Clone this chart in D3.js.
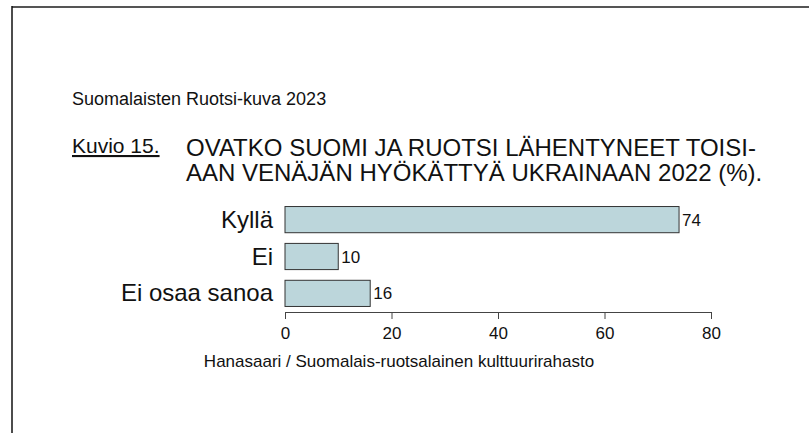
<!DOCTYPE html>
<html>
<head>
<meta charset="utf-8">
<script src="https://cdn.jsdelivr.net/npm/d3@7"></script>
<style>
  body { margin: 0; background: #fff; }
  text { font-family: "Liberation Sans", Arial, sans-serif; fill: #111; }
</style>
</head>
<body>
<script>
var width = 809,
    height = 433;

// data
var categories = ['Kyllä', 'Ei', 'Ei osaa sanoa'];
var values = [74, 10, 16];
var ticks = [0, 20, 40, 60, 80];

var svg = d3.select('body')
  .append('svg')
    .attr('width', width)
    .attr('height', height)

// frame (top and left only)
svg.append('line')
    .attr('x1', 12).attr('x2', width)
    .attr('y1', 7).attr('y2', 7)
    .attr('stroke', '#555').attr('stroke-width', 2)
svg.append('line')
    .attr('x1', 12).attr('x2', 12)
    .attr('y1', 6).attr('y2', height)
    .attr('stroke', '#111').attr('stroke-width', 1.5)

// headings
svg.append('text')
    .attr('x', 72).attr('y', 105)
    .style('font-size', '18px')
    .text('Suomalaisten Ruotsi-kuva 2023')

svg.append('text')
    .attr('x', 72).attr('y', 153)
    .style('font-size', '21px')
    .style('text-decoration', 'underline')
    .text('Kuvio 15.')

svg.append('text')
    .attr('x', 186).attr('y', 156)
    .style('font-size', '24px')
    .text('OVATKO SUOMI JA RUOTSI LÄHENTYNEET TOISI-')
svg.append('text')
    .attr('x', 186).attr('y', 181)
    .style('font-size', '24px')
    .text('AAN VENÄJÄN HYÖKÄTTYÄ UKRAINAAN 2022 (%).')

// scales
var x = d3.scaleLinear().domain([0, 80]).range([285, 711]);
var y = d3.scaleBand().domain(categories).range([201, 312]).paddingInner(0.29).paddingOuter(0.15);

var g = svg.append('g');

g.selectAll('rect.bar')
    .data(values).enter()
  .append('rect')
    .attr('class', 'bar')
    .attr('x', x(0))
    .attr('y', function(d, i){ return y(categories[i]); })
    .attr('width', function(d){ return x(d) - x(0); })
    .attr('height', y.bandwidth())
    .attr('fill', '#bcd6db')
    .attr('stroke', '#333')
    .attr('stroke-width', 1)

g.selectAll('text.val')
    .data(values).enter()
  .append('text')
    .attr('class', 'val')
    .attr('x', function(d){ return x(d) + 3; })
    .attr('y', function(d, i){ return y(categories[i]) + y.bandwidth() / 2 + 6; })
    .style('font-size', '17px')
    .text(function(d){ return d; })

g.selectAll('text.cat')
    .data(categories).enter()
  .append('text')
    .attr('class', 'cat')
    .attr('x', 273)
    .attr('y', function(d){ return y(d) + y.bandwidth() / 2 + 8; })
    .attr('text-anchor', 'end')
    .style('font-size', '24px')
    .text(function(d){ return d; })

// axis
var axis = svg.append('g')
    .attr('transform', 'translate(0,312)')
    .call(d3.axisBottom(x).tickValues(ticks).tickSize(7).tickPadding(8));
axis.select('.domain').attr('stroke', '#444');
axis.selectAll('.tick line').attr('stroke', '#444');
axis.selectAll('.tick text')
    .style('font-size', '17px')
    .style('font-family', '"Liberation Sans", Arial, sans-serif')
    .attr('fill', '#111');

// source
svg.append('text')
    .attr('x', 399).attr('y', 367)
    .attr('text-anchor', 'middle')
    .style('font-size', '17px')
    .text('Hanasaari / Suomalais-ruotsalainen kulttuurirahasto')
</script>
</body>
</html>
